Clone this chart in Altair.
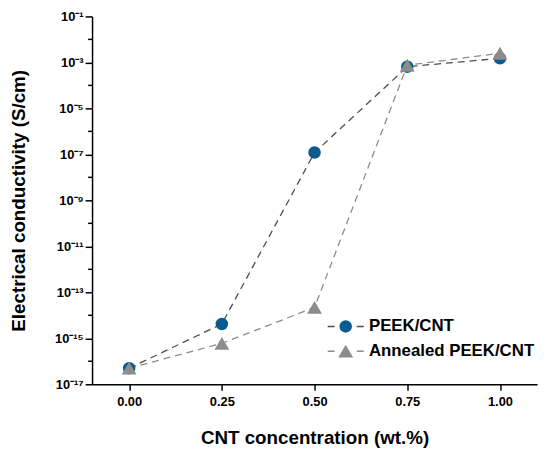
import altair as alt
import pandas as pd

# ---- data ----
conc = [0.00, 0.25, 0.50, 0.75, 1.00]
peek = [5.0e-17, 4.2e-15, 1.2e-7, 6.5e-4, 1.5e-3]
annealed = [5.0e-17, 6.0e-16, 2.2e-14, 7.5e-4, 2.5e-3]
series_names = ["PEEK/CNT", "Annealed PEEK/CNT"]
x_ticks = [0.00, 0.25, 0.50, 0.75, 1.00]
y_major = [1e-1, 1e-3, 1e-5, 1e-7, 1e-9, 1e-11, 1e-13, 1e-15, 1e-17]
y_minor = [1e-2, 1e-4, 1e-6, 1e-8, 1e-10, 1e-12, 1e-14, 1e-16]

marker_colors = ["#0b5a91", "#8c8c8c"]
line_colors = ["#4d4d4d", "#8c8c8c"]
marker_shapes = ["circle", "triangle-up"]
marker_sizes = [160, 225]

# line series keys differ from marker keys so that the two legends stay separate
line_names = [n + " " for n in series_names]

rows = []
for name, lname, vals in zip(series_names, line_names, [peek, annealed]):
    for c, v in zip(conc, vals):
        rows.append({"conc": c, "sigma": v, "series": lname, "marker": name})
df = pd.DataFrame(rows)
minor_df = pd.DataFrame({"tick": y_minor})

FONT = "Liberation Sans"

sup = "['\u2070','\u00b9','\u00b2','\u00b3','\u2074','\u2075','\u2076','\u2077','\u2078','\u2079']"
e = "round(-log(datum.value)/LN10)"
label_expr = f"'10\u207b' + ({e} >= 10 ? '\u00b9' + {sup}[{e} - 10] : {sup}[{e}])"

x_enc = alt.X(
    "conc:Q",
    scale=alt.Scale(domain=[-0.1, 1.1], nice=False, zero=False),
    axis=alt.Axis(values=x_ticks, format=".2f", title="CNT concentration (wt.%)",
                  tickSize=6, labelPadding=5, titlePadding=21, grid=False),
)
y_enc = alt.Y(
    "sigma:Q",
    scale=alt.Scale(type="log", domain=[1e-17, 1e-1], nice=False),
    axis=alt.Axis(values=y_major, labelExpr=label_expr,
                  title="Electrical conductivity (S/cm)",
                  tickSize=7, labelPadding=2, titlePadding=26, grid=False),
)

legend_common = dict(orient="none", legendX=248, legendY=305, title=None,
                     symbolSize=196, symbolStrokeWidth=1.5, labelFontSize=17,
                     labelFontWeight="bold", labelOffset=15, rowPadding=7, padding=0,
                     labelLimit=400)

lines = alt.Chart(df).mark_line(strokeDash=[7, 5], strokeWidth=1.3).encode(
    x=x_enc,
    y=y_enc,
    stroke=alt.Stroke(
        "series:N",
        scale=alt.Scale(domain=line_names, range=line_colors),
        legend=alt.Legend(symbolType="M-2.6,0H-1.6M1.6,0H2.6", labelOpacity=0,
                          symbolDash=[1, 0], **legend_common),
    ),
)

points = alt.Chart(df).mark_point(filled=True, opacity=1).encode(
    x=x_enc,
    y=y_enc,
    color=alt.Color(
        "marker:N",
        scale=alt.Scale(domain=series_names, range=marker_colors),
        legend=alt.Legend(**legend_common),
    ),
    shape=alt.Shape("marker:N", scale=alt.Scale(domain=series_names, range=marker_shapes)),
    size=alt.Size("marker:N", scale=alt.Scale(domain=series_names, range=marker_sizes), legend=None),
)

minor = alt.Chart(minor_df).mark_rule(color="black", strokeWidth=1.5).encode(
    y=alt.Y("tick:Q", scale=alt.Scale(type="log", domain=[1e-17, 1e-1], nice=False)),
    x=alt.value(-4),
    x2=alt.value(0),
)

chart = alt.layer(minor, lines, points).properties(
    width=450,
    height=372,
    autosize=alt.AutoSizeParams(type="none"),
    padding={"left": 85, "top": 6, "right": 5, "bottom": 66},
).configure_view(stroke=None).configure_axis(
    labelFont=FONT, labelFontWeight="bold", labelFontSize=13, labelColor="black",
    titleFont=FONT, titleFontWeight="bold", titleFontSize=19, titleColor="black",
    domainColor="black", domainWidth=1.5, tickColor="black", tickWidth=1.5,
).configure_legend(
    labelFont=FONT, labelColor="black",
)

chart.save("out.html", embed_options={"renderer": "svg", "actions": False})
